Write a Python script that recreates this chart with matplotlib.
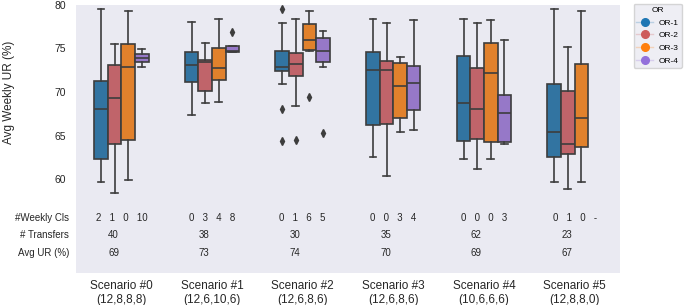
import matplotlib
matplotlib.use("Agg")
import matplotlib.pyplot as plt
from matplotlib.lines import Line2D
from matplotlib.colors import to_rgba

plt.rcParams["font.family"] = ["Liberation Sans", "DejaVu Sans"]

# ---------------------------
# DATA
# ---------------------------
scenarios = ["Scenario #0\n(12,8,8,8)", "Scenario #1\n(12,6,10,6)", "Scenario #2\n(12,6,8,6)",
             "Scenario #3\n(12,6,8,6)", "Scenario #4\n(10,6,6,6)", "Scenario #5\n(12,8,8,0)"]
ors = ["OR-1", "OR-2", "OR-3", "OR-4"]

# (whisker low, q1, median, q3, whisker high) per scenario
or1_stats = [(59.7, 62.3, 68.0, 71.3, 79.5), (67.4, 71.2, 73.05, 74.55, 78.0),
             (70.9, 72.4, 72.9, 74.7, 77.9), (62.6, 66.25, 72.5, 74.55, 78.4),
             (62.3, 64.35, 68.7, 74.1, 78.4), (59.7, 62.6, 65.4, 70.9, 79.5)]
or2_stats = [(58.5, 64.0, 69.3, 73.05, 75.5), (68.7, 70.1, 73.4, 73.7, 75.65),
             (68.4, 71.8, 73.2, 74.5, 78.4), (60.35, 66.3, 72.55, 73.6, 77.9),
             (61.15, 64.6, 68.1, 72.7, 77.9), (58.85, 62.9, 64.1, 70.1, 75.2)]
or3_stats = [(59.9, 64.5, 72.9, 75.5, 79.3), (68.8, 71.4, 72.7, 75.0, 78.4),
             (74.7, 74.85, 75.9, 77.75, 79.3), (65.45, 67.0, 70.65, 73.35, 74.05),
             (62.3, 64.3, 72.2, 75.6, 78.2), (59.7, 63.75, 67.05, 73.2, 79.3)]
or4_stats = [(72.9, 73.4, 73.9, 74.35, 74.9), (74.55, 74.55, 74.7, 75.3, 75.3),
             (72.9, 73.4, 74.7, 76.15, 77.0), (65.65, 67.9, 71.0, 73.0, 78.2),
             (64.0, 64.3, 67.55, 69.7, 75.9), None]

or1_fliers = [[], [], [79.5, 68.0, 64.35], [], [], []]
or2_fliers = [[], [], [64.5], [], [], []]
or3_fliers = [[], [], [69.4], [], [], []]
or4_fliers = [[], [76.9], [65.3], [], [], []]

weekly_cls = ["2   1   0   10", "0   3   4   8", "0   1   6   5",
              "0   0   3   4", "0   0   0   3", "0   1   0   -"]
transfers = [40, 38, 30, 35, 62, 23]
avg_ur = [69, 73, 74, 70, 69, 67]

# ---------------------------
# STYLE
# ---------------------------
box_colors = ["#3274A1", "#C0646A", "#E1812C", "#9678C8"]
legend_colors = ["#1f77b4", "#cd5c5c", "#ff7f0e", "#9370db"]
edge = "#3d3d3d"
bg = "#EAEAF2"

fig = plt.figure(figsize=(6.85, 3.05), dpi=100)
ax = fig.add_axes([0.111, 0.105, 0.794, 0.880])
ax.set_facecolor(bg)
for s in ax.spines.values():
    s.set_visible(False)

all_stats = [or1_stats, or2_stats, or3_stats, or4_stats]
all_fliers = [or1_fliers, or2_fliers, or3_fliers, or4_fliers]
offsets = [-0.225, -0.075, 0.075, 0.225]
box_w = 0.15

for k in range(len(ors)):
    for i in range(len(scenarios)):
        st = all_stats[k][i]
        if st is None:
            continue
        lo, q1, med, q3, hi = st
        d = dict(whislo=lo, q1=q1, med=med, q3=q3, whishi=hi, fliers=all_fliers[k][i])
        ax.bxp([d], positions=[i + offsets[k]], widths=box_w, patch_artist=True,
               showfliers=True, manage_ticks=False,
               boxprops=dict(facecolor=box_colors[k], edgecolor=edge, linewidth=1.2),
               medianprops=dict(color=edge, linewidth=1.2),
               whiskerprops=dict(color=edge, linewidth=1.2),
               capprops=dict(color=edge, linewidth=1.2),
               capwidths=box_w / 2,
               flierprops=dict(marker="d", markerfacecolor=edge, markeredgecolor=edge,
                               markersize=4))

ax.set_xlim(-0.5, len(scenarios) - 0.5)
ax.set_ylim(49.3, 80)
ax.set_yticks([60, 65, 70, 75, 80])
ax.set_xticks(range(len(scenarios)))
ax.set_xticklabels(scenarios, fontsize=8.5, color="#262626")
ax.tick_params(axis="both", length=0, labelsize=7.5, colors="#262626")
ax.tick_params(axis="x", pad=5, labelsize=8.5)
ax.tick_params(axis="y", pad=7)

ax.set_ylabel("Avg Weekly UR (%)", fontsize=8.5, color="#262626")
ax.yaxis.set_label_coords(-0.113, 0.674)

# ---------------------------
# TABLE OF NUMBERS UNDER THE BOXES
# ---------------------------
row_y = [55.6, 53.6, 51.6]
row_labels = ["#Weekly Cls", "# Transfers", "Avg UR (%)"]
for lab, y in zip(row_labels, row_y):
    ax.text(-0.575, y, lab, ha="right", va="center", fontsize=7, color="#262626", clip_on=False)
for i in range(len(scenarios)):
    ax.text(i, row_y[0], weekly_cls[i], ha="center", va="center", fontsize=7, color="#262626")
    ax.text(i - 0.085, row_y[1], str(transfers[i]), ha="center", va="center", fontsize=7, color="#262626")
    ax.text(i - 0.085, row_y[2], str(avg_ur[i]), ha="center", va="center", fontsize=7, color="#262626")

# ---------------------------
# LEGEND
# ---------------------------
handles = [Line2D([0], [0], color=to_rgba(c, 0.25), lw=1, marker="o", markersize=5.5,
                  markerfacecolor=c, markeredgecolor=c) for c in legend_colors]
leg = ax.legend(handles, ors, title="OR", loc="upper left", bbox_to_anchor=(1.025, 1.003),
                borderaxespad=0, fontsize=6, title_fontsize=6, handlelength=2.0,
                frameon=True, facecolor=bg, edgecolor="#cccccc", labelspacing=0.6,
                handletextpad=0.7, borderpad=0.35)

plt.savefig("out.png", dpi=100)
